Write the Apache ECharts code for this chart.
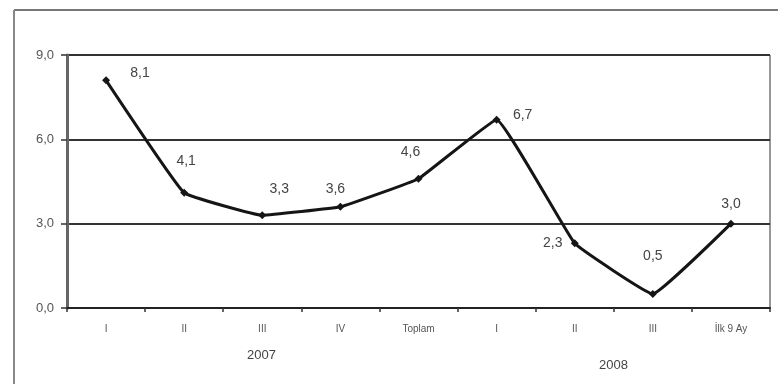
<!DOCTYPE html>
<html>
<head>
<meta charset="utf-8">
<script src="https://cdn.jsdelivr.net/npm/echarts@6/dist/echarts.min.js"></script>
<style>
  html, body { margin: 0; padding: 0; background: #fff; }
  #chart { width: 778px; height: 384px; }
</style>
</head>
<body>
<div id="chart"></div>
<script>
// Quarterly growth, 2007 and 2008
const categories = ['I', 'II', 'III', 'IV', 'Toplam', 'I', 'II', 'III', 'İlk 9 Ay'];
const growth = [8.1, 4.1, 3.3, 3.6, 4.6, 6.7, 2.3, 0.5, 3.0];
const yTicks = [0, 3, 6, 9];
const yearLabels = ['2007', '2008'];

// offset of each value label from the default spot above its point
const labelOffsets = [
  [34, 9],
  [2, -16],
  [17, -10],
  [-5, -2],
  [-8, -11],
  [26, 11],
  [-22, 16],
  [0, -22],
  [0, -4]
];

const chart = echarts.init(document.getElementById('chart'), null, { renderer: 'canvas' });

chart.setOption({
  backgroundColor: '#fff',
  animation: false,
  grid: {
    left: 67, right: 8, top: 55, bottom: 76,
    show: true, borderColor: '#333', borderWidth: 1, backgroundColor: 'transparent'
  },
  xAxis: {
    type: 'category',
    data: categories,
    boundaryGap: true,
    axisLine: { lineStyle: { color: '#222', width: 2 } },
    axisTick: { show: true, length: 4, lineStyle: { color: '#333', width: 1.5 } },
    axisLabel: { color: '#555', fontSize: 10, fontFamily: 'Liberation Sans', margin: 16 }
  },
  yAxis: {
    type: 'value',
    min: yTicks[0], max: yTicks[yTicks.length - 1], interval: 3,
    axisLine: { show: true, lineStyle: { color: '#666', width: 3 } },
    axisTick: { show: true, length: 6, lineStyle: { color: '#333', width: 1.5 } },
    axisLabel: {
      color: '#555', fontSize: 13, fontFamily: 'Liberation Sans', margin: 13,
      formatter: v => v.toFixed(1).replace('.', ',')
    },
    splitLine: { lineStyle: { color: '#333', width: 2 } }
  },
  series: [{
    type: 'line',
    data: growth.map((v, i) => ({
      value: v,
      label: { offset: labelOffsets[i] }
    })),
    smooth: 0.08,
    symbol: 'diamond',
    symbolSize: 8,
    lineStyle: { color: '#151515', width: 3 },
    itemStyle: { color: '#151515' },
    label: {
      show: true,
      position: 'top',
      color: '#444',
      fontSize: 14,
      fontFamily: 'Liberation Sans',
      formatter: p => p.value.toFixed(1).replace('.', ',')
    },
    z: 5
  }],
  graphic: [
    // outer frame around the figure
    { type: 'line', shape: { x1: 14, y1: 10, x2: 778, y2: 10 }, style: { stroke: '#777', lineWidth: 2 } },
    { type: 'line', shape: { x1: 14, y1: 10, x2: 14, y2: 384 }, style: { stroke: '#888', lineWidth: 2 } },
    { type: 'text', left: 247, top: 349, style: { text: yearLabels[0], fill: '#444', font: '13px "Liberation Sans"' } },
    { type: 'text', left: 599, top: 359, style: { text: yearLabels[1], fill: '#444', font: '13px "Liberation Sans"' } }
  ]
});
</script>
</body>
</html>
